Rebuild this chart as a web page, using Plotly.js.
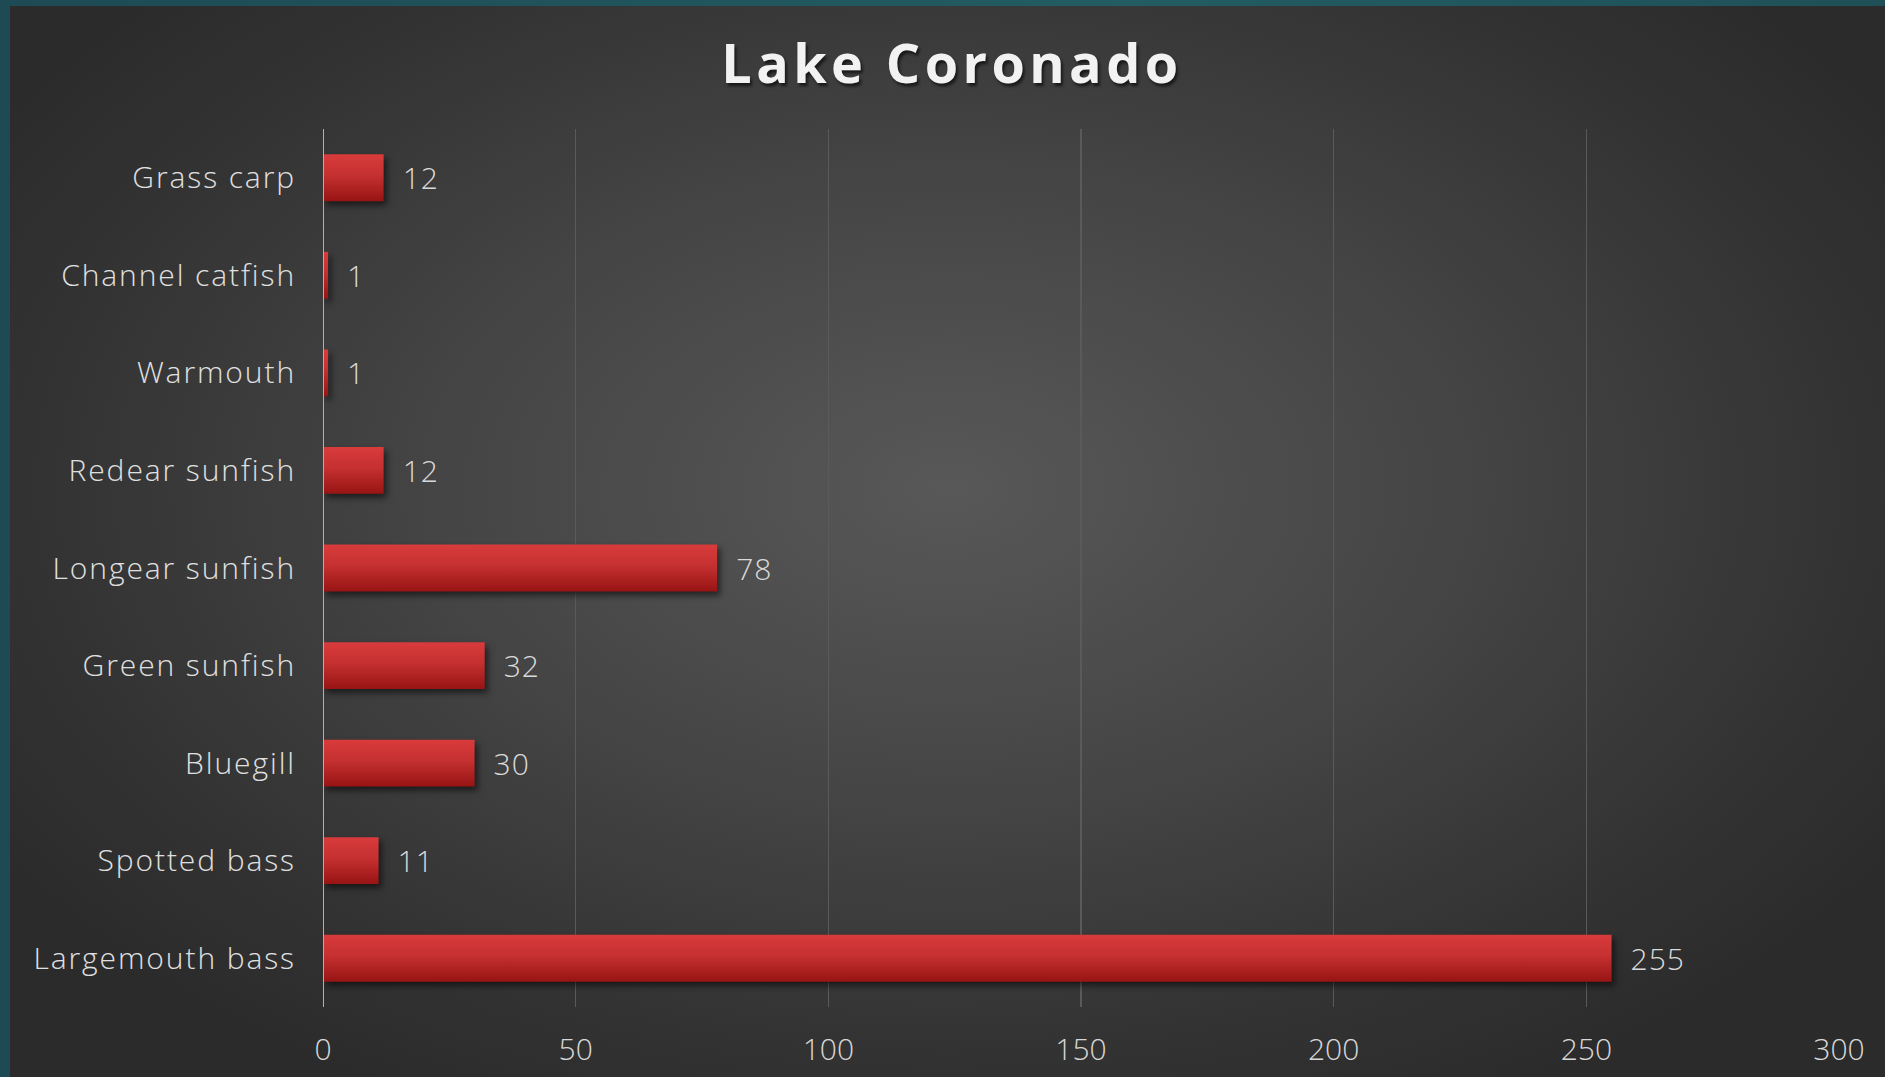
<!DOCTYPE html>
<html>
<head>
<meta charset="utf-8">
<script src="https://cdn.plot.ly/plotly-3.0.1.min.js"></script>
<style>
  html, body { margin:0; padding:0; width:1885px; height:1077px; overflow:hidden;
    background: linear-gradient(90deg, #1d4a55 0%, #235c63 60%, #1f5058 100%); }
  #frame { position:absolute; left:10px; top:6px; width:1875px; height:1071px;
    background: radial-gradient(ellipse 60% 65% at 50% 45%, #585858 0%, #454545 45%, #333333 80%, #2b2b2b 100%); }
  #chart { position:absolute; left:0; top:0; width:1885px; height:1077px; }
  .trace.bars .point path { fill: url(#redgrad) !important;
    filter: drop-shadow(3px 4px 3px rgba(0,0,0,0.55)); }
  .ytick text { letter-spacing: 1.9px; }
  .bartext { letter-spacing: 1px; }
  .gtitle { letter-spacing: 4.4px; }
</style>
</head>
<body>
<svg width="0" height="0" style="position:absolute">
  <defs>
    <linearGradient id="redgrad" x1="0" y1="0" x2="0" y2="1">
      <stop offset="0%" stop-color="#d93b3b"/>
      <stop offset="45%" stop-color="#c53030"/>
      <stop offset="100%" stop-color="#981414"/>
    </linearGradient>
  </defs>
</svg>
<div id="frame"></div>
<div id="chart"></div>
<script>
const categories = ["Largemouth bass", "Spotted bass", "Bluegill", "Green sunfish",
  "Longear sunfish", "Redear sunfish", "Warmouth", "Channel catfish", "Grass carp"];
const counts = [255, 11, 30, 32, 78, 12, 1, 1, 12];
const tickValues = [0, 50, 100, 150, 200, 250, 300];

const fontFam = "'Open Sans', Lato, sans-serif";

const trace = {
  type: "bar",
  orientation: "h",
  x: counts,
  y: categories,
  width: 0.48,
  marker: { color: "#c62c2c", line: { width: 0 } },
  text: counts.map(String),
  texttemplate: "\u2002%{x}",
  textposition: "outside",
  cliponaxis: false,
  textfont: { family: fontFam, size: 30, color: "#dadada", weight: 300 },
  hoverinfo: "none"
};

const layout = {
  width: 1885, height: 1077,
  paper_bgcolor: "rgba(0,0,0,0)",
  plot_bgcolor: "rgba(0,0,0,0)",
  margin: { l: 323, r: 46, t: 129, b: 70, pad: 0 },
  showlegend: false,
  title: {
    text: "Lake Coronado",
    font: { family: fontFam, size: 54, color: "#f2f2f2", weight: 700,
            shadow: "2px 3px 3px rgba(0,0,0,0.6)" },
    x: 0.505, xanchor: "center",
    y: 1 - 64/1077, yref: "container", yanchor: "middle"
  },
  xaxis: {
    range: [0, 300],
    tickvals: tickValues,
    ticktext: tickValues.map(String),
    showgrid: true,
    gridcolor: "#5a5a5a",
    gridwidth: 1.5,
    zeroline: false,
    showline: false,
    ticks: "",
    ticklabelstandoff: 22,
    tickfont: { family: fontFam, size: 30, color: "#d8d8d8", weight: 300 },
    fixedrange: true
  },
  yaxis: {
    type: "category",
    categoryorder: "array",
    categoryarray: categories,
    showgrid: false,
    zeroline: false,
    showline: false,
    ticks: "",
    ticklabelstandoff: 26,
    tickfont: { family: fontFam, size: 30, color: "#e0e0e0", weight: 300 },
    fixedrange: true
  },
  shapes: [{
    type: "line", xref: "x", yref: "paper",
    x0: 0, x1: 0, y0: 0, y1: 1,
    line: { color: "#b0b0b0", width: 2 },
    layer: "above"
  }],
  bargap: 0.52
};

Plotly.newPlot("chart", [trace], layout, { displayModeBar: false, staticPlot: true });
</script>
</body>
</html>
